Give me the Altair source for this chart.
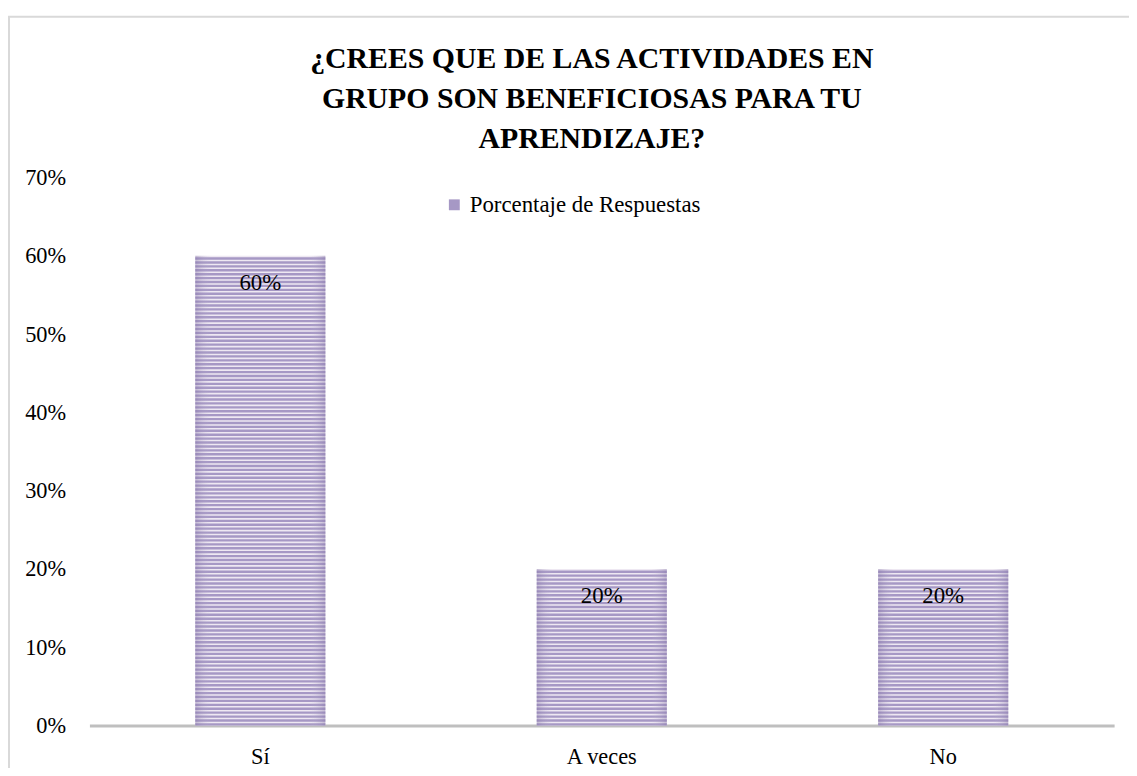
import altair as alt
import pandas as pd

# ---- data ----
categories = ["Sí", "A veces", "No"]
values = [0.60, 0.20, 0.20]
value_labels = ["60%", "20%", "20%"]
series_name = "Porcentaje de Respuestas"
y_ticks = [0.0, 0.1, 0.2, 0.3, 0.4, 0.5, 0.6, 0.7]
title_lines = [
    "¿CREES QUE DE LAS ACTIVIDADES EN",
    "GRUPO SON BENEFICIOSAS PARA TU",
    "APRENDIZAJE?",
]

FONT = "Liberation Serif, Times New Roman, DejaVu Serif, serif"
STRIPE = "#a698c5"

df = pd.DataFrame({
    "categoria": categories,
    "valor": values,
    "etiqueta": value_labels,
    "serie": [series_name] * len(categories),
})

x_enc = alt.X(
    "categoria:N",
    sort=categories,
    scale=alt.Scale(paddingInner=0.619, paddingOuter=0.31),
    axis=alt.Axis(
        title=None, labelAngle=0, ticks=False,
        domainColor="#bfbfbf", domainWidth=3,
        labelFont=FONT, labelFontSize=22.5, labelColor="#000000",
        labelPadding=20,
    ),
)
y_axis = alt.Axis(
    title=None, format=".0%", values=y_ticks, grid=False,
    domain=False, ticks=False, labelFont=FONT, labelFontSize=22.5,
    labelColor="#000000", labelPadding=24,
)
y_scale = alt.Scale(domain=[0, 0.7], nice=False)

light_fill = alt.LinearGradient(
    gradient="linear", x1=0, x2=1, y1=0, y2=0,
    stops=[
        alt.GradientStop(offset=0, color="#d9d1e4"),
        alt.GradientStop(offset=0.12, color="#eee8f2"),
        alt.GradientStop(offset=0.88, color="#eee8f2"),
        alt.GradientStop(offset=1, color="#d9d1e4"),
    ],
)
edge_shade = alt.LinearGradient(
    gradient="linear", x1=0, x2=1, y1=0, y2=0,
    stops=[
        alt.GradientStop(offset=0, color="rgba(90,70,130,0.18)"),
        alt.GradientStop(offset=0.12, color="rgba(255,255,255,0)"),
        alt.GradientStop(offset=0.88, color="rgba(255,255,255,0)"),
        alt.GradientStop(offset=1, color="rgba(90,70,130,0.18)"),
    ],
)

base = alt.Chart(df).mark_bar(color=light_fill).encode(
    x=x_enc, y=alt.Y("valor:Q", scale=y_scale, axis=y_axis)
)

stripes = (
    alt.Chart(df)
    .transform_calculate(s="sequence(0, datum.valor, 0.005)")
    .transform_flatten(["s"])
    .transform_calculate(s2="min(datum.s + 0.003, datum.valor)")
    .mark_bar()
    .encode(
        x=x_enc,
        y=alt.Y("s:Q", scale=y_scale, axis=y_axis),
        y2="s2:Q",
        color=alt.Color(
            "serie:N",
            scale=alt.Scale(range=[STRIPE]),
            legend=alt.Legend(
                title=None, orient="none", legendX=356, legendY=16,
                symbolType="square", symbolSize=120, symbolStrokeWidth=0,
                labelFont=FONT, labelFontSize=23, labelColor="#000000",
                labelLimit=500,
            ),
        ),
    )
)

shade = alt.Chart(df).mark_bar(color=edge_shade).encode(
    x=x_enc, y=alt.Y("valor:Q", scale=y_scale, axis=y_axis)
)

text = alt.Chart(df).mark_text(
    dy=27, baseline="middle", font=FONT, fontSize=23, color="#000000"
).encode(
    x=x_enc, y=alt.Y("valor:Q", scale=y_scale, axis=y_axis), text="etiqueta:N"
)

frame = alt.Chart(pd.DataFrame({"marco": [0]})).mark_rect(
    fill="#ffffff", fillOpacity=0, stroke="#d9d9d9", strokeWidth=2
).encode(
    x=alt.value(-81), x2=alt.value(1070),
    y=alt.value(-162), y2=alt.value(620),
)

chart = (
    alt.layer(frame, base, stripes, shade, text)
    .properties(
        width=1032,
        height=552,
        autosize=alt.AutoSizeParams(type="none"),
        padding={"left": 82, "top": 168, "right": 15, "bottom": 40},
        title=alt.TitleParams(
            text=title_lines, font=FONT, fontSize=30, fontWeight="bold",
            color="#000000", anchor="middle", lineHeight=40, offset=26,
            dx=-10, dy=165, frame="group",
        ),
    )
    .configure(background="#ffffff", font=FONT)
    .configure_view(strokeWidth=0, stroke="transparent")
)

chart.save("out.html", embed_options={"renderer": "svg", "actions": False})
